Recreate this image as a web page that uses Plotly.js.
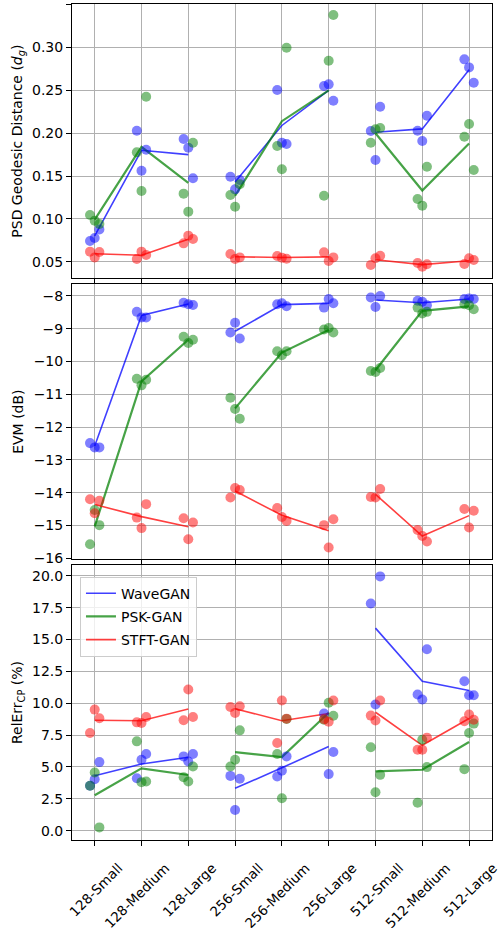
<!DOCTYPE html>
<html>
<head>
<meta charset="utf-8">
<script src="https://cdn.plot.ly/plotly-3.0.1.min.js"></script>
<style>html,body{margin:0;padding:0;background:#fff;}#chart{width:498px;height:928px;}</style>
</head>
<body>
<div id="chart"></div>
<script>
// ---------------- data ----------------
const categories = ['128-Small','128-Medium','128-Large','256-Small','256-Medium','256-Large','512-Small','512-Medium','512-Large'];
const models = ['WaveGAN','PSK-GAN','STFT-GAN'];

// PSD Geodesic Distance: three runs per category (left, centre, right)
const psdWavePts = [[0.0741,0.0776,0.0877],[0.2029,0.1562,0.1807],[0.1932,0.1831,0.1473],[0.1492,0.1344,0.1453],[0.2504,0.1889,0.1874],[0.2551,0.2570,0.2379],[0.2025,0.1687,0.2309],[0.2029,0.1909,0.2204],[0.2862,0.2768,0.2589]];
const psdPskPts  = [[0.1045,0.0979,0.0940],[0.1776,0.1325,0.2426],[0.1294,0.1084,0.1889],[0.1278,0.1142,0.1403],[0.1850,0.1578,0.2998],[0.1270,0.2846,0.3379],[0.1889,0.2045,0.2060],[0.1232,0.1154,0.1609],[0.1959,0.2107,0.1570]];
const psdStftPts = [[0.0617,0.0550,0.0613],[0.0531,0.0617,0.0578],[0.0714,0.0804,0.0765],[0.0590,0.0531,0.0550],[0.0566,0.0547,0.0535],[0.0609,0.0508,0.0550],[0.0461,0.0539,0.0570],[0.0484,0.0442,0.0469],[0.0473,0.0539,0.0520]];
const psdWaveLine = [0.080,0.180,0.175,0.143,0.209,0.250,0.201,0.205,0.274];
const psdPskLine  = [0.099,0.184,0.142,0.127,0.214,0.250,0.200,0.133,0.188];
const psdStftLine = [0.0593,0.0575,0.0761,0.0557,0.0549,0.0556,0.0523,0.0465,0.0511];

// EVM (dB)
const evmWavePts = [[-12.49,-12.62,-12.62],[-8.49,-8.66,-8.66],[-8.21,-8.26,-8.28],[-9.12,-8.82,-9.30],[-8.26,-8.23,-8.32],[-8.36,-8.10,-8.23],[-8.05,-8.34,-8.01],[-8.15,-8.18,-8.29],[-8.10,-8.08,-8.10]];
const evmPskPts  = [[-15.57,-14.53,-14.99],[-10.53,-10.73,-10.56],[-9.25,-9.44,-9.34],[-11.11,-11.45,-11.75],[-9.69,-9.81,-9.69],[-9.03,-8.98,-9.12],[-10.29,-10.32,-10.20],[-8.36,-8.54,-8.49],[-8.26,-8.29,-8.41]];
const evmStftPts = [[-14.20,-14.63,-14.25],[-14.76,-15.08,-14.35],[-14.78,-15.42,-14.91],[-14.15,-13.86,-13.92],[-14.47,-14.74,-14.86],[-14.99,-15.67,-14.81],[-14.13,-14.15,-13.89],[-15.14,-15.32,-15.49],[-14.50,-15.06,-14.55]];
const evmWaveLine = [-12.58,-8.60,-8.25,-9.08,-8.27,-8.23,-8.13,-8.21,-8.10];
const evmPskLine  = [-15.03,-10.61,-9.34,-11.43,-9.73,-9.04,-10.27,-8.46,-8.32];
const evmStftLine = [-14.36,-14.73,-15.04,-13.95,-14.69,-15.16,-14.05,-15.32,-14.70];

// RelErr_CP (%)
const relWavePts = [[3.52,4.04,5.38],[4.12,5.56,6.01],[5.83,5.43,6.01],[4.30,1.63,4.07],[4.25,4.70,5.83],[9.19,4.44,6.17],[17.82,9.90,19.95],[10.68,10.29,14.23],[11.73,10.63,10.63]];
const relPskPts  = [[3.52,4.57,0.26],[7.01,3.81,3.86],[4.20,3.86,5.04],[5.04,5.56,7.87],[6.01,2.55,8.77],[8.70,10.04,9.02],[6.54,3.02,4.38],[2.20,7.14,4.99],[4.83,7.66,8.40]];
const relStftPts = [[7.66,9.50,8.82],[8.50,8.45,8.92],[8.66,11.08,8.92],[9.71,9.24,9.76],[6.88,10.21,8.79],[8.74,8.55,10.21],[9.03,8.64,10.21],[6.35,6.35,7.30],[8.58,9.11,8.71]];
const relWaveLine = [4.31,5.23,5.76,3.33,4.93,6.60,15.89,11.73,11.00];
const relPskLine  = [2.78,4.89,4.37,6.16,5.78,9.25,4.65,4.78,6.96];
const relStftLine = [8.66,8.62,9.55,9.57,8.63,9.20,9.29,6.70,8.80];

// ---------------- styling ----------------
const JITTER = [-0.1, 0, 0.1];
const GROUP = 3; // lines are drawn per signal length group
const lineCol = ['rgba(0,0,255,0.75)','rgba(0,128,0,0.72)','rgba(255,0,0,0.75)'];
const lineW = [1.6, 2.2, 1.6];
const dotCol = ['rgba(0,0,255,0.5)','rgba(0,128,0,0.5)','rgba(255,0,0,0.5)'];
const FONT = 'DejaVu Sans, sans-serif';

function lineTrace(vals, m, ax, showLegend){
  const x=[], y=[];
  vals.forEach((v,i)=>{ x.push(i); y.push(v); if(i%GROUP===GROUP-1 && i<vals.length-1){x.push(null); y.push(null);} });
  return {type:'scatter', mode:'lines', x, y, xaxis:'x'+ax, yaxis:'y'+ax, name:models[m], legendgroup:models[m],
    showlegend:showLegend, connectgaps:false, line:{color:lineCol[m], width:lineW[m]}, hoverinfo:'skip'};
}
function dotTrace(pts, m, ax){
  const x=[], y=[];
  pts.forEach((arr,i)=>arr.forEach((v,j)=>{ x.push(i+JITTER[j]); y.push(v); }));
  return {type:'scatter', mode:'markers', x, y, xaxis:'x'+ax, yaxis:'y'+ax, name:models[m], legendgroup:models[m],
    showlegend:false, marker:{color:dotCol[m], size:10, line:{width:0}}, hoverinfo:'skip'};
}

const panels = [
  {ax:'', pts:[psdWavePts,psdPskPts,psdStftPts], lines:[psdWaveLine,psdPskLine,psdStftLine]},
  {ax:'2', pts:[evmWavePts,evmPskPts,evmStftPts], lines:[evmWaveLine,evmPskLine,evmStftLine]},
  {ax:'3', pts:[relWavePts,relPskPts,relStftPts], lines:[relWaveLine,relPskLine,relStftLine]},
];
const traces = [];
panels.forEach(p=>{
  for(let m=0;m<3;m++) traces.push(lineTrace(p.lines[m], m, p.ax, p.ax==='3'));
  for(let m=0;m<3;m++) traces.push(dotTrace(p.pts[m], m, p.ax));
});

const tickIdx = categories.map((c,i)=>i);
function xAxis(anchor, labels){
  return {anchor, range:[-0.485,8.49], tickmode:'array', tickvals:tickIdx, ticktext:categories,
    showticklabels:labels, tickangle:-45, ticklabelshift:24, ticklabelstandoff:9, ticklabeloverflow:'allow',
    showgrid:true, gridcolor:'#b0b0b0', gridwidth:1, zeroline:false,
    showline:true, linecolor:'#000', linewidth:1, mirror:true,
    ticks:'outside', ticklen:5, tickwidth:1, tickcolor:'#000',
    tickfont:{family:FONT, size:13.5, color:'#000'}, fixedrange:true};
}
function yAxis(anchor, domain, range, tickvals, fmt, title){
  return {anchor, domain, range, tickmode:'array', tickvals, tickformat:fmt,
    showgrid:true, gridcolor:'#b0b0b0', gridwidth:1, zeroline:false,
    showline:true, linecolor:'#000', linewidth:1, mirror:true,
    ticks:'outside', ticklen:5, tickwidth:1, tickcolor:'#000',
    tickfont:{family:FONT, size:14, color:'#000'},
    title:{text:title, font:{family:FONT, size:14, color:'#000'}, standoff:6}, fixedrange:true};
}
const psdTicks = [0.05,0.10,0.15,0.20,0.25,0.30,0.35];
const evmTicks = [-16,-15,-14,-13,-12,-11,-10,-9,-8];
const relTicks = [0,2.5,5,7.5,10,12.5,15,17.5,20];

const layout = {
  width:498, height:928,
  margin:{l:72, r:6, t:4, b:88},
  paper_bgcolor:'#fff', plot_bgcolor:'#fff',
  font:{family:FONT, size:14, color:'#000'},
  showlegend:true,
  legend:{x:0.019, y:0.315, xanchor:'left', yanchor:'top', bgcolor:'rgba(255,255,255,0.8)',
    bordercolor:'#cccccc', borderwidth:1, font:{family:FONT, size:14, color:'#000'}, tracegroupgap:2, itemwidth:30},
  xaxis: xAxis('y', false),
  xaxis2: xAxis('y2', false),
  xaxis3: xAxis('y3', true),
  yaxis: yAxis('x', [0.6719,1], [0.0306,0.3508], psdTicks, '.2f', 'PSD Geodesic Distance (<i>d</i><sub><i>g</i></sub>)'),
  yaxis2: yAxis('x2', [0.3358,0.6651], [-16.03,-7.64], evmTicks, 'd', 'EVM (dB)'),
  yaxis3: yAxis('x3', [0,0.3289], [-0.73,20.84], relTicks, '.1f', 'RelErr<sub>CP</sub> (%)'),
};

Plotly.newPlot('chart', traces, layout, {displayModeBar:false, staticPlot:true});
</script>
</body>
</html>
